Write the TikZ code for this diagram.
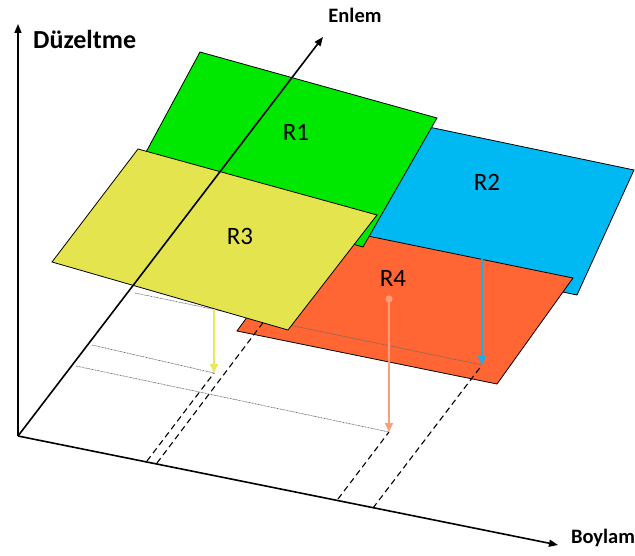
\documentclass[tikz,border=0pt]{standalone}
\usepackage{fontspec}
\setmainfont{Carlito}
\usetikzlibrary{arrows.meta}

\definecolor{rgreen}{RGB}{0,232,0}
\definecolor{rblue}{RGB}{0,185,242}
\definecolor{ryellow}{RGB}{228,228,78}
\definecolor{rorange}{RGB}{255,102,51}
\definecolor{dropsalmon}{RGB}{250,160,120}
\definecolor{dropblue}{RGB}{30,170,235}
\definecolor{dropyellow}{RGB}{232,232,90}

\tikzset{
  axisline/.style={line width=1.6pt, -{Triangle[length=9pt,width=7pt]}},
  plane/.style={draw=black, line width=0.8pt, line join=miter},
  dashproj/.style={line width=1.1pt, dash pattern=on 6pt off 4pt},
  dotproj/.style={black!60, line width=0.7pt, dash pattern=on 0.8pt off 0.7pt},
  droparrow/.style={line width=1.8pt, -{Triangle[length=9pt,width=8pt]}},
  axislabel/.style={font=\fontsize{20.5}{24}\selectfont\bfseries, inner sep=0pt},
  regionlabel/.style={font=\fontsize{25}{30}\selectfont, inner sep=0pt}
}

\begin{document}
\begin{tikzpicture}[x=1pt,y=-1pt]
\useasboundingbox (0,0) rectangle (635,556);

% axes end points
\coordinate (O) at (18,436);
\coordinate (Ztip) at (18,24);
\coordinate (Etip) at (323,37);
\coordinate (Btip) at (558,545);

% drop arrows: start and tip
\coordinate (startY) at (214,309);
\coordinate (tipY) at (214,373);
\coordinate (startB) at (482,259);
\coordinate (tipB) at (482,365);
\coordinate (startO) at (389,299);
\coordinate (tipO) at (389,432);

% feet of the projection lines
\coordinate (dotA) at (135,293);
\coordinate (dotB) at (92,345);
\coordinate (dotC) at (76,366);
\coordinate (footA) at (147,461);
\coordinate (footB) at (157,463);
\coordinate (endB) at (268,316);
\coordinate (footC) at (338,499);
\coordinate (footD) at (373,508);

% region corners
\coordinate (g1) at (200,52);  \coordinate (g2) at (437,118);
\coordinate (g3) at (363,247); \coordinate (g4) at (131,180);
\coordinate (b1) at (400,121); \coordinate (b2) at (634,170);
\coordinate (b3) at (577,295); \coordinate (b4) at (343,246);
\coordinate (y1) at (138,149); \coordinate (y2) at (377,215);
\coordinate (y3) at (288,330); \coordinate (y4) at (52,262);
\coordinate (o1) at (314,225); \coordinate (o2) at (573,278);
\coordinate (o3) at (497,384); \coordinate (o4) at (237,331);

% vertical and longitude axes
\draw[axisline] (O) -- (Ztip);
\draw[axisline] (O) -- (Btip);

% projection lines in the ground plane
\draw[dotproj] (dotB) -- (tipY);
\draw[dotproj] (dotC) -- (tipO);
\draw[dashproj] (footA) -- (tipY);
\draw[dashproj] (footC) -- (tipO);

% R2 and R4
\path[plane, fill=rblue] (b1) -- (b2) -- (b3) -- (b4) -- cycle;
\path[plane, fill=rorange] (o1) -- (o2) -- (o3) -- (o4) -- cycle;

\draw[dotproj] (dotA) -- (tipB);
\draw[dashproj] (footB) -- (endB);
\draw[dashproj] (footD) -- (tipB);

\draw[droparrow, dropblue] (startB) -- (tipB);
\draw[droparrow, dropsalmon] (startO) -- (tipO);
\fill[dropsalmon] (startO) circle (3.6pt);

% R1 and R3
\path[plane, fill=rgreen] (g1) -- (g2) -- (g3) -- (g4) -- cycle;
\path[plane, fill=ryellow] (y1) -- (y2) -- (y3) -- (y4) -- cycle;

\draw[droparrow, dropyellow] (startY) -- (tipY);

% latitude axis, over the regions
\draw[axisline] (O) -- (Etip);

% labels
\node[axislabel, font=\fontsize{26}{30}\selectfont\bfseries, anchor=west] (zlab) at (33,39) {Düzeltme};
\node[axislabel] (elab) at (355,15) {Enlem};
\node[axislabel] (blab) at (603,538) {Boylam};

\node[regionlabel] (r1) at (296,132) {R1};
\node[regionlabel] (r2) at (487,182) {R2};
\node[regionlabel] (r3) at (240,236) {R3};
\node[regionlabel] (r4) at (393,278) {R4};
\end{tikzpicture}
\end{document}
